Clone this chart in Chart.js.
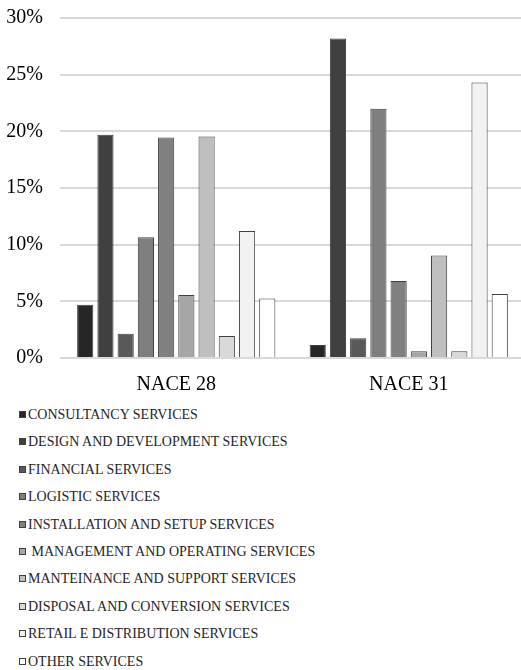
<!DOCTYPE html>
<html>
<head>
<meta charset="utf-8">
<script src="https://cdn.jsdelivr.net/npm/chart.js@4.4.0/dist/chart.umd.min.js"></script>
<style>
  body { margin: 0; background: #fff; overflow: hidden; }
  #legend { position: absolute; left: 19px; top: 401px; font-family: 'Liberation Serif', 'Times New Roman', serif; font-size: 14px; color: #262626; }
  #legend div { height: 27.4px; line-height: 27.4px; white-space: pre; }
  #legend span.box { display: inline-block; width: 7px; height: 7px; border: 1px solid #404040; box-sizing: border-box; margin-right: 2px; vertical-align: 1px; }
</style>
</head>
<body>
<canvas id="barChart" width="526" height="400"></canvas>
<div id="legend"></div>
<script>
var categories = ["NACE 28", "NACE 31"];

var seriesNames = [
  "CONSULTANCY SERVICES",
  "DESIGN AND DEVELOPMENT SERVICES",
  "FINANCIAL SERVICES",
  "LOGISTIC SERVICES",
  "INSTALLATION AND SETUP SERVICES",
  " MANAGEMENT AND OPERATING SERVICES",
  "MANTEINANCE AND SUPPORT SERVICES",
  "DISPOSAL AND CONVERSION SERVICES",
  "RETAIL E DISTRIBUTION SERVICES",
  "OTHER SERVICES"
];

// percentages, [NACE 28, NACE 31]
var consultancy = [4.7, 1.15];
var design = [19.7, 28.2];
var financial = [2.15, 1.75];
var logistic = [10.65, 22.0];
var installation = [19.45, 6.8];
var management = [5.55, 0.6];
var manteinance = [19.55, 9.05];
var disposal = [1.95, 0.6];
var retail = [11.2, 24.3];
var other = [5.25, 5.65];

var yTicks = [0, 5, 10, 15, 20, 25, 30];

var seriesValues = [consultancy, design, financial, logistic, installation, management, manteinance, disposal, retail, other];
var colors = ["#262626", "#404040", "#595959", "#7f7f7f", "#808080", "#a6a6a6", "#bfbfbf", "#d9d9d9", "#f2f2f2", "#ffffff"];

var datasets = [];
for (var i = 0; i < seriesNames.length; ++i) {
  datasets.push({
    label: seriesNames[i],
    data: seriesValues[i],
    backgroundColor: colors[i],
    borderColor: "#404040",
    borderWidth: 1,
    barPercentage: 0.8,
    categoryPercentage: 0.87
  });
}

var serif = "'Liberation Serif', 'Times New Roman', serif";

var ctx = document.getElementById("barChart").getContext('2d');
var myChart = new Chart(ctx, {
  type: 'bar',
  data: {
    labels: categories,
    datasets: datasets
  },
  options: {
    responsive: false,
    animation: false,
    layout: {
      padding: { left: 4, right: 1, top: 18, bottom: 0 }
    },
    plugins: {
      legend: { display: false },
      tooltip: { enabled: false }
    },
    scales: {
      x: {
        grid: { display: false },
        border: { display: false },
        afterFit: function(axis) { axis.height = 42; },
        ticks: {
          color: "#000",
          padding: 7,
          font: { family: serif, size: 20 }
        }
      },
      y: {
        min: 0,
        max: 30,
        afterBuildTicks: function(axis) {
          axis.ticks = yTicks.map(function(v) { return { value: v }; });
        },
        afterFit: function(axis) {
          axis.width = 56;
          axis.paddingTop = 0;
          axis.paddingBottom = 0;
        },
        grid: { color: "#d9d9d9", lineWidth: 2, drawTicks: false },
        border: { display: false },
        ticks: {
          color: "#000",
          padding: 17,
          font: { family: serif, size: 20 },
          callback: function(v) { return v + "%"; }
        }
      }
    }
  }
});

// legend as a single column below the chart
var legend = document.getElementById("legend");
for (var j = 0; j < seriesNames.length; ++j) {
  var row = document.createElement("div");
  var box = document.createElement("span");
  box.className = "box";
  box.style.background = colors[j];
  row.appendChild(box);
  row.appendChild(document.createTextNode(seriesNames[j]));
  legend.appendChild(row);
}
</script>
</body>
</html>
